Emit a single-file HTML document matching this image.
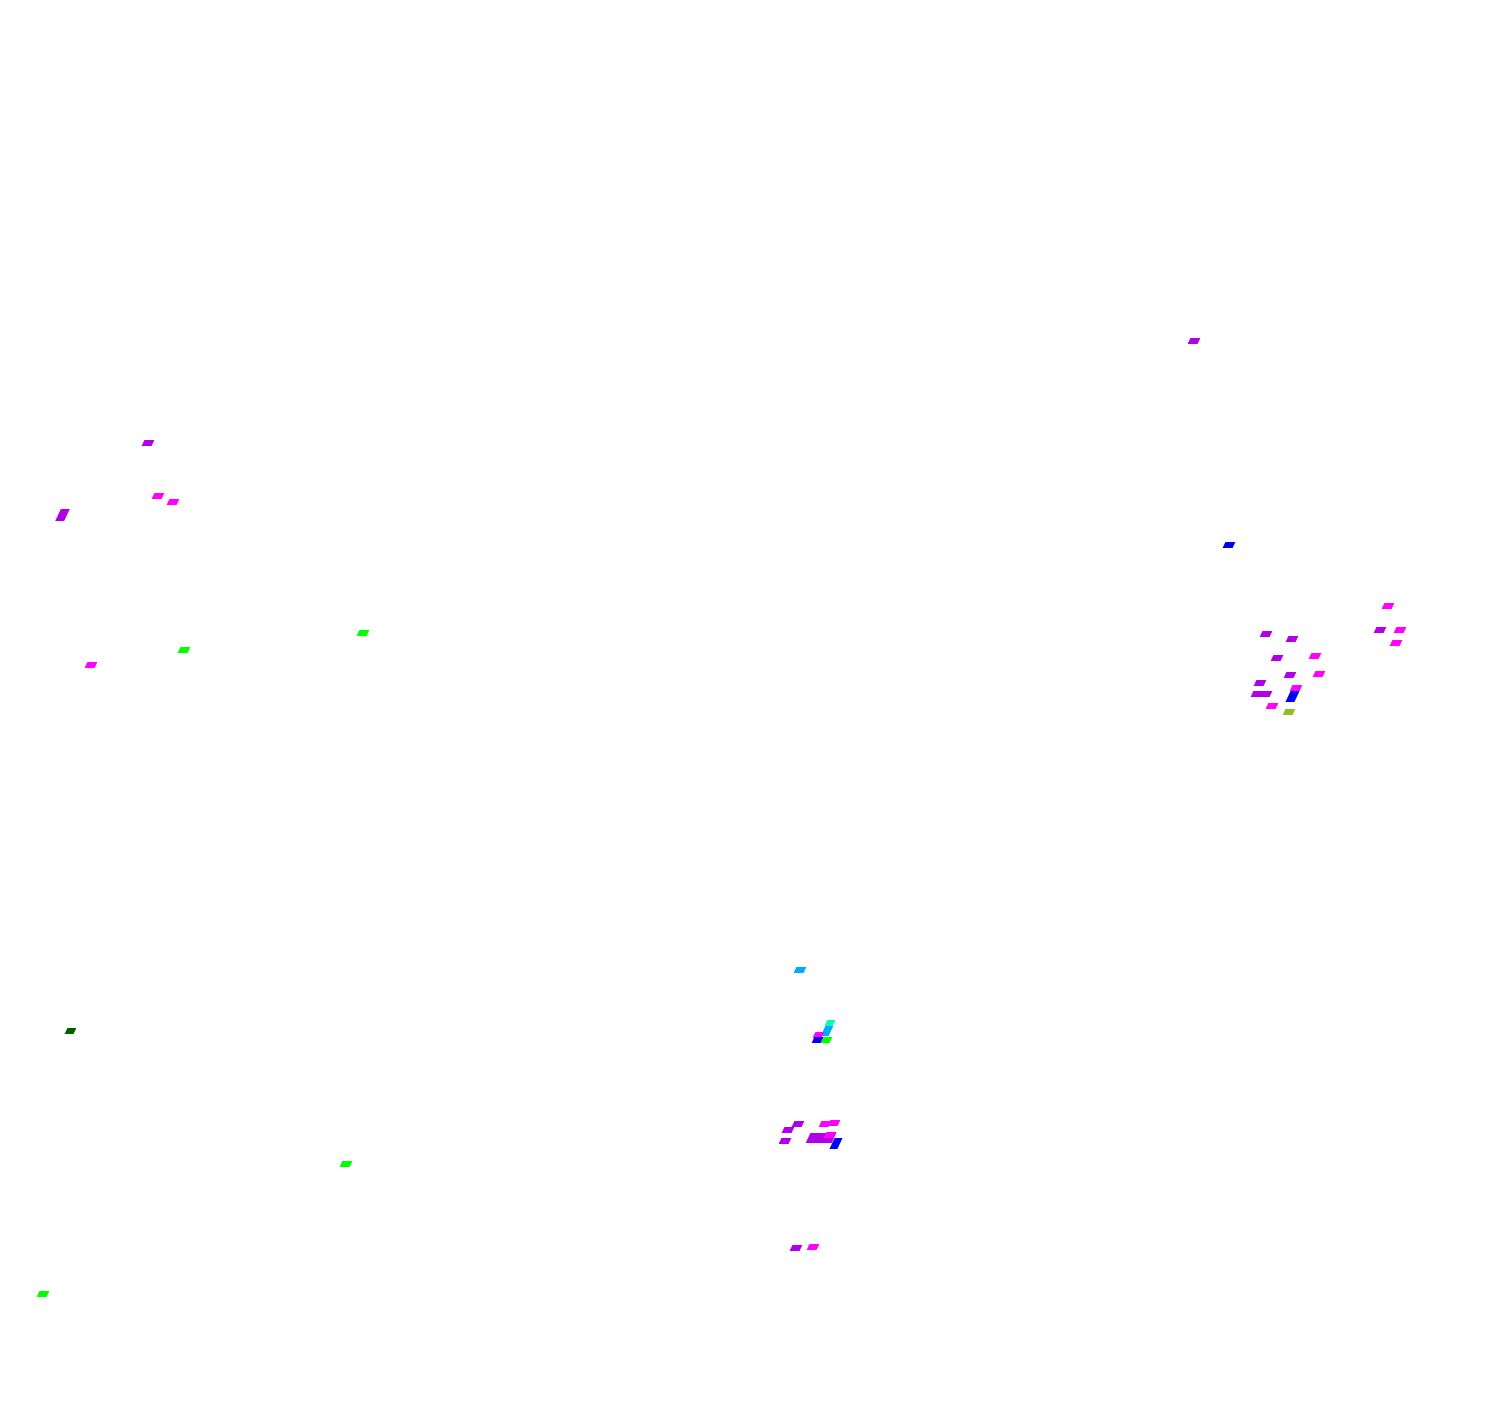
<!DOCTYPE html>
<html><head><meta charset="utf-8"><style>
html,body{margin:0;padding:0;background:#fff;width:1500px;height:1408px;overflow:hidden;position:relative}
i{position:absolute;display:block;width:10px;height:6px;transform:skewX(-25deg)}
.p{background:#b000e8}.m{background:#ff00ff}.b{background:#0000f0}.g{background:#00ff00}
.c{background:#00aaff}.o{background:#90c020}.d{background:#006000}.t{background:#00ffb0}
</style></head><body>
<i class="p" style="left:1189px;top:338px"></i>
<i class="p" style="left:143px;top:440px"></i>
<i class="m" style="left:153px;top:493px"></i>
<i class="m" style="left:168px;top:499px"></i>
<i class="p" style="left:58px;top:509px;width:9px;height:12px"></i>
<i class="g" style="left:358px;top:630px"></i>
<i class="g" style="left:179px;top:647px"></i>
<i class="m" style="left:86px;top:662px"></i>
<i class="b" style="left:1224px;top:542px"></i>
<i class="m" style="left:1383px;top:603px"></i>
<i class="p" style="left:1375px;top:627px"></i>
<i class="m" style="left:1395px;top:627px"></i>
<i class="m" style="left:1391px;top:640px"></i>
<i class="p" style="left:1261px;top:631px"></i>
<i class="p" style="left:1287px;top:636px"></i>
<i class="p" style="left:1272px;top:655px"></i>
<i class="m" style="left:1310px;top:653px"></i>
<i class="p" style="left:1285px;top:672px"></i>
<i class="m" style="left:1314px;top:671px"></i>
<i class="p" style="left:1255px;top:680px"></i>
<i class="p" style="left:1252px;top:691px;width:19px"></i>
<i class="m" style="left:1291px;top:685px"></i>
<i class="b" style="left:1288px;top:691px;width:9px;height:11px"></i>
<i class="m" style="left:1267px;top:703px"></i>
<i class="o" style="left:1284px;top:709px"></i>
<i class="c" style="left:795px;top:967px"></i>
<i class="t" style="left:826px;top:1020px;width:8px"></i>
<i class="c" style="left:823px;top:1026px;width:8px;height:10px"></i>
<i class="m" style="left:814px;top:1032px;width:9px"></i>
<i class="b" style="left:813px;top:1037px;width:9px"></i>
<i class="g" style="left:822px;top:1037px;width:9px"></i>
<i class="p" style="left:793px;top:1121px"></i>
<i class="p" style="left:783px;top:1127px"></i>
<i class="p" style="left:780px;top:1138px"></i>
<i class="m" style="left:820px;top:1121px"></i>
<i class="m" style="left:829px;top:1120px"></i>
<i class="p" style="left:808px;top:1133px;width:26px;height:10px"></i>
<i class="m" style="left:825px;top:1132px"></i>
<i class="b" style="left:832px;top:1138px;width:8px;height:11px"></i>
<i class="p" style="left:791px;top:1245px"></i>
<i class="m" style="left:808px;top:1244px"></i>
<i class="d" style="left:66px;top:1028px;width:9px"></i>
<i class="g" style="left:341px;top:1161px"></i>
<i class="g" style="left:38px;top:1291px"></i>
</body></html>
